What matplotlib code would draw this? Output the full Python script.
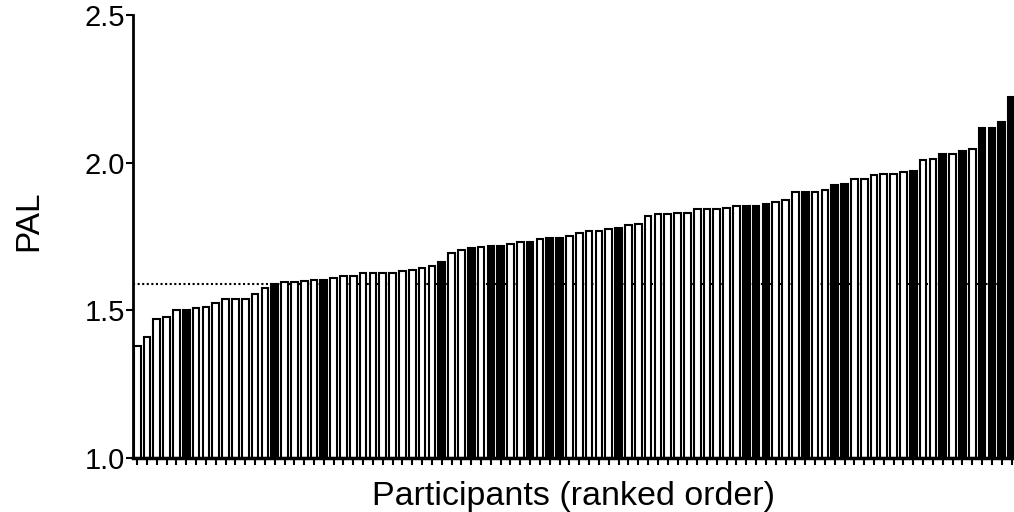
import matplotlib.pyplot as plt
import numpy as np

plt.rcParams['font.family'] = ['Liberation Sans', 'DejaVu Sans']

# PAL per participant, ranked order
pal = [1.378, 1.41, 1.47, 1.477, 1.50, 1.502, 1.507, 1.511, 1.524, 1.54,
       1.54, 1.54, 1.554, 1.574, 1.59, 1.595, 1.597, 1.599, 1.604, 1.604,
       1.608, 1.617, 1.617, 1.626, 1.626, 1.626, 1.626, 1.632, 1.637, 1.644,
       1.651, 1.664, 1.694, 1.703, 1.712, 1.714, 1.719, 1.719, 1.725, 1.732,
       1.732, 1.742, 1.746, 1.746, 1.750, 1.761, 1.767, 1.767, 1.775, 1.779,
       1.788, 1.793, 1.818, 1.825, 1.825, 1.828, 1.828, 1.842, 1.842, 1.842,
       1.846, 1.852, 1.852, 1.852, 1.860, 1.867, 1.874, 1.901, 1.901, 1.901,
       1.908, 1.926, 1.928, 1.945, 1.945, 1.959, 1.962, 1.962, 1.967, 1.972,
       2.009, 2.011, 2.028, 2.028, 2.040, 2.046, 2.119, 2.119, 2.136, 2.221]

# participants drawn as filled bars (index in ranked order)
filled_idx = [5, 14, 19, 31, 34, 36, 37, 40, 42, 43, 49, 62, 63, 64, 68,
              71, 72, 79, 82, 84, 86, 87, 88, 89]

ref_line = 1.59
yticks = [1.0, 1.5, 2.0, 2.5]
ytick_labels = ['1.0', '1.5', '2.0', '2.5']

fig = plt.figure(figsize=(10.14, 5.12), dpi=100)
ax = fig.add_axes([0.1312, 0.1055, 0.8688, 0.8652])

x = np.arange(len(pal))
heights = np.array(pal) - 1.0
colors = ['black' if i in filled_idx else 'white' for i in x]
ax.bar(x, heights, bottom=1.0, width=0.68, color=colors,
       edgecolor='black', linewidth=1.5, zorder=2)

ax.axhline(ref_line, color='black', linestyle=(0, (1, 1.2)), linewidth=1.5, zorder=1)

ax.set_xlim(-0.42, 89.25)
ax.set_ylim(1.0, 2.5)
ax.set_yticks(yticks)
ax.set_yticklabels(ytick_labels, fontsize=21)
ax.set_xticks(x)
ax.set_xticklabels([])

ax.spines['top'].set_visible(False)
ax.spines['right'].set_visible(False)
ax.spines['left'].set_linewidth(2)
ax.spines['bottom'].set_linewidth(2.5)
ax.spines['bottom'].set_zorder(3)
ax.tick_params(axis='y', direction='out', length=5, width=1.5, pad=1)
ax.tick_params(axis='x', direction='out', length=5, width=1.5)

ax.set_ylabel('PAL', fontsize=24)
ax.yaxis.set_label_coords(-0.101, 0.535)
ax.set_xlabel('Participants (ranked order)', fontsize=24.5, labelpad=8)

plt.savefig('out.png', dpi=100)
